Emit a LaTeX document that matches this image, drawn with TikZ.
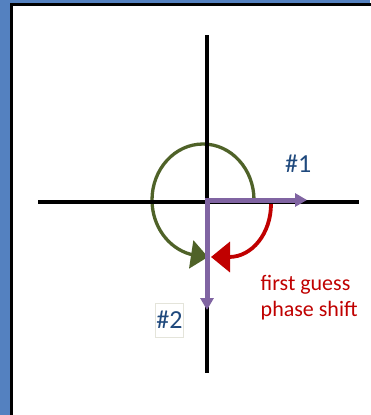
\documentclass[tikz,border=0pt]{standalone}
\usepackage{fontspec}
\setmainfont{Carlito}
\usetikzlibrary{arrows.meta}
\definecolor{bgblue}{RGB}{84,129,192}
\definecolor{arcgreen}{RGB}{79,98,40}
\definecolor{vecpurple}{RGB}{128,100,162}
\definecolor{labblue}{RGB}{31,73,125}
\definecolor{guessred}{RGB}{192,0,0}
\definecolor{boxgray}{RGB}{228,228,218}
\begin{document}
\begin{tikzpicture}[x=1pt,y=-1pt,
  axisline/.style={line width=4.5pt, black},
  vec/.style={line width=5pt, vecpurple, -{Triangle[length=12pt,width=13pt]}},
  greenarc/.style={line width=3.3pt, arcgreen, -{Triangle[length=17pt,width=28pt]}},
  redarc/.style={line width=3.8pt, guessred, -{Triangle[length=19pt,width=30pt]}},
  lab/.style={text=labblue, font=\fontsize{26}{31}\selectfont, inner sep=0pt},
  guess/.style={text=guessred, font=\fontsize{22}{26}\selectfont, inner sep=0pt, anchor=base west}]
\useasboundingbox (0,0) rectangle (370,415);
\fill[bgblue] (0,0) rectangle (370,415);
\draw[fill=white, line width=2.5pt] (11.5,4.5) rectangle (390,430);
% coordinates
\coordinate (L) at (38,202);
\coordinate (R) at (359,202);
\coordinate (T) at (207,35);
\coordinate (B) at (207,373);
\coordinate (Oh) at (204.5,200);
\coordinate (Ov) at (207,197.5);
\coordinate (E1) at (307,200);
\coordinate (E2) at (207,310);
\coordinate (Gs) at (254,200);
\coordinate (Gt) at (208,257);
\coordinate (Rs) at (271,204);
\coordinate (Rt) at (211,257);
% arcs
\draw[greenarc] (Gs) arc[start angle=0, end angle=-256, x radius=51, y radius=56] -- (Gt);
\draw[redarc] (Rs) arc[start angle=0, end angle=90, x radius=42, y radius=53] -- (Rt);
% axes
\draw[axisline] (L) -- (R);
\draw[axisline] (T) -- (B);
% vectors
\draw[vec] (Oh) -- (E1);
\draw[vec] (Ov) -- (E2);
% labels
\node[lab, anchor=base west] (n1) at (285,172.5) {\#1};
\node[lab, draw=boxgray, line width=0.8pt, fill=white, minimum width=28pt, minimum height=34pt] (n2) at (169.5,320) {\#2};
\node[guess] (g1) at (260.5,290) {first guess};
\node[guess] (g2) at (260.5,316) {phase shift};
\end{tikzpicture}
\end{document}
